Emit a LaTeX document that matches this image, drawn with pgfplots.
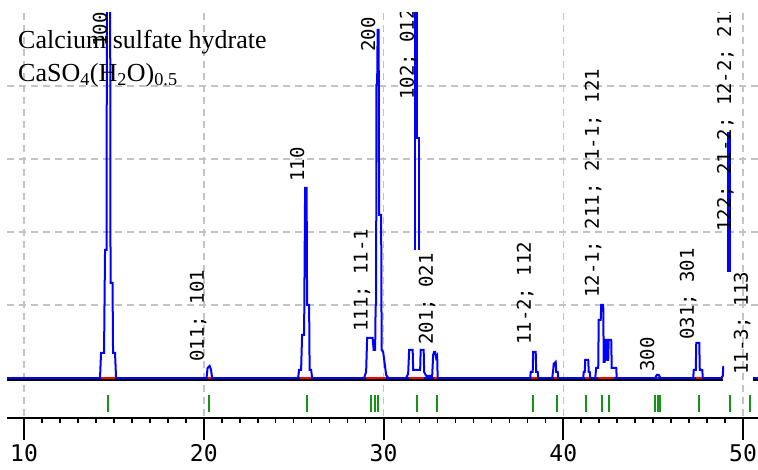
\documentclass[border=0pt]{standalone}
\usepackage{pgfplots}
\pgfplotsset{compat=1.18}
\usepackage{fontspec}
\setmainfont{Liberation Serif}
\newfontfamily\monofont{DejaVu Sans Mono}
\definecolor{pblue}{RGB}{0,0,255}
\definecolor{pgreen}{RGB}{20,150,20}
\definecolor{pred}{RGB}{255,0,0}
\definecolor{pgrid}{RGB}{195,195,195}
\begin{document}
\begin{tikzpicture}
\begin{axis}[
  width=751pt, height=405pt, scale only axis,
  xmin=9.054, xmax=50.83, ymin=-11, ymax=100,
  axis x line*=bottom, axis y line=none,
  xtick={10,20,30,40,50}, minor x tick num=9,
  tick align=outside, major tick length=22pt, minor tick length=5pt,
  x axis line style={line width=2pt, black},
  major tick style={black, line width=2pt},
  minor tick style={black, line width=1.6pt},
  xticklabel style={font=\monofont\fontsize{23}{23}\selectfont, inner sep=0pt, yshift=-4pt},
  /pgf/number format/assume math mode=true,
  unbounded coords=jump,
  clip=true,
]
% grid
\draw[pgrid, line width=1.5pt, dash pattern=on 7pt off 5pt] (axis cs:9.054,20) -- (axis cs:50.83,20);
\draw[pgrid, line width=1.5pt, dash pattern=on 7pt off 5pt] (axis cs:9.054,40) -- (axis cs:50.83,40);
\draw[pgrid, line width=1.5pt, dash pattern=on 7pt off 5pt] (axis cs:9.054,60) -- (axis cs:50.83,60);
\draw[pgrid, line width=1.5pt, dash pattern=on 7pt off 5pt] (axis cs:9.054,80) -- (axis cs:50.83,80);
\draw[pgrid, line width=1.5pt, dash pattern=on 7pt off 5pt] (axis cs:10,100) -- (axis cs:10,-11);
\draw[pgrid, line width=1.5pt, dash pattern=on 7pt off 5pt] (axis cs:20,100) -- (axis cs:20,-11);
\draw[pgrid, line width=1.5pt, dash pattern=on 7pt off 5pt] (axis cs:30,100) -- (axis cs:30,-11);
\draw[pgrid, line width=1.5pt, dash pattern=on 7pt off 5pt] (axis cs:40,100) -- (axis cs:40,-11);
\draw[pgrid, line width=1.5pt, dash pattern=on 7pt off 5pt] (axis cs:50,100) -- (axis cs:50,-11);
% baseline
\addplot[black, line width=2pt] coordinates {(9.054,-0.6) (48.90,-0.6) (49.0,nan) (50.568,-0.6) (50.83,-0.6)};
\addplot[pblue, line width=2pt] coordinates {(9.054,0) (48.90,0) (49.0,nan) (50.568,0) (50.83,0)};
% red background segments
\addplot[pred, line width=2.5pt] coordinates {
 (14.285,-0.1) (15.064,-0.1) (15.1,nan)
 (20.24,-0.1) (20.41,-0.1) (20.5,nan)
 (25.36,-0.1) (25.97,-0.1) (26.0,nan)
 (29.03,-0.1) (30.15,-0.1) (30.2,nan)
 (31.43,-0.1) (32.26,-0.1) (32.3,nan)
 (32.82,-0.1) (32.98,-0.1) (33.0,nan)
 (38.21,-0.1) (38.55,-0.1) (38.6,nan)
 (39.49,-0.1) (39.66,-0.1) (39.7,nan)
 (41.22,-0.1) (41.44,-0.1) (41.5,nan)
 (41.94,-0.1) (42.83,-0.1) (42.9,nan)
 (45.22,-0.1) (45.28,-0.1) (45.3,nan)
 (47.37,-0.1) (47.70,-0.1) (47.8,nan)
 (48.84,-0.1) (48.90,-0.1)};
% peaks
\addplot[pblue, line width=2pt] coordinates {(14.229,0) (14.285,6.85) (14.452,6.85) (14.508,35.1) (14.591,35.1) (14.619,130) (14.786,130) (14.814,26.0) (14.925,26.0) (14.953,6.85) (15.064,6.85) (15.120,0)};
\addplot[pblue, line width=2pt] coordinates {(20.156,0) (20.212,2.74) (20.323,3.29) (20.406,2.19) (20.462,0)};
\addplot[pblue, line width=2pt] coordinates {(25.247,0) (25.303,2.19) (25.414,2.19) (25.470,11.8) (25.581,11.8) (25.637,52.1) (25.720,52.1) (25.748,20.0) (25.860,20.0) (25.887,2.19) (25.971,2.19) (26.027,0)};
\addplot[pblue, line width=2pt] coordinates {(28.921,0) (29.032,1.64) (29.087,10.96) (29.393,10.96) (29.449,7.67) (29.532,7.67) (29.560,20.0) (29.588,20.0) (29.604,80.3) (29.644,80.3) (29.672,95.4) (29.727,95.4) (29.755,44.7) (29.866,44.7) (29.894,7.67) (29.978,7.12) (30.145,0.82) (30.256,0)};
\addplot[pblue, line width=2pt] coordinates {(31.258,0) (31.369,1.10) (31.425,7.67) (31.620,7.67) (31.648,2.19) (32.037,2.19) (32.065,7.67) (32.232,7.67) (32.259,1.64) (32.371,0.55) (32.705,0.55) (32.760,6.30) (32.816,7.12) (32.872,7.12) (32.927,5.48) (32.983,6.03) (33.010,0)};
\addplot[pblue, line width=2pt] coordinates {(31.759,35.07) (31.759,130) (31.870,130) (31.870,65.75) (31.981,65.75) (31.981,35.07)};
\addplot[pblue, line width=2pt] coordinates {(38.158,0) (38.186,1.64) (38.297,1.64) (38.325,7.12) (38.464,7.12) (38.492,1.64) (38.575,1.64) (38.603,0)};
\addplot[pblue, line width=2pt] coordinates {(39.383,0) (39.438,2.19) (39.466,3.84) (39.577,4.38) (39.605,1.64) (39.689,1.64) (39.716,0)};
\addplot[pblue, line width=2pt] coordinates {(41.108,0) (41.136,1.64) (41.191,1.64) (41.219,4.93) (41.386,4.93) (41.414,1.64) (41.469,1.64) (41.497,0)};
\addplot[pblue, line width=2pt] coordinates {(41.775,0) (41.831,2.74) (41.942,2.74) (41.970,15.9) (42.081,15.9) (42.109,20.0) (42.220,20.0) (42.248,4.38) (42.304,4.38) (42.331,10.41) (42.415,10.41) (42.443,4.93) (42.498,4.93) (42.526,10.41) (42.665,10.41) (42.693,2.74) (42.944,2.74) (42.971,0)};
\addplot[pblue, line width=2pt] coordinates {(45.114,0) (45.197,0.82) (45.308,0.82) (45.392,0)};
\addplot[pblue, line width=2pt] coordinates {(47.229,0) (47.257,2.19) (47.368,2.19) (47.396,9.59) (47.563,9.59) (47.591,2.19) (47.730,2.19) (47.758,0)};
\addplot[pblue, line width=2pt] coordinates {(48.787,0) (48.871,0.55) (48.898,3.01) (48.926,3.01)};
\addplot[pblue, line width=2pt] coordinates {(49.176,29.0) (49.176,67.1) (49.288,67.1) (49.288,29.0)};
% reflection markers
\addplot[pgreen, line width=2pt] coordinates {
 (14.67,-4.66) (14.67,-9.32) (14.7,nan)
 (20.29,-4.66) (20.29,-9.32) (20.3,nan)
 (25.75,-4.66) (25.75,-9.32) (25.8,nan)
 (29.31,-4.66) (29.31,-9.32) (29.4,nan)
 (29.53,-4.66) (29.53,-9.32) (29.6,nan)
 (29.70,-4.66) (29.70,-9.32) (29.8,nan)
 (31.87,-4.66) (31.87,-9.32) (31.9,nan)
 (32.98,-4.66) (32.98,-9.32) (33.0,nan)
 (38.33,-4.66) (38.33,-9.32) (38.4,nan)
 (39.66,-4.66) (39.66,-9.32) (39.7,nan)
 (41.27,-4.66) (41.27,-9.32) (41.3,nan)
 (42.16,-4.66) (42.16,-9.32) (42.2,nan)
 (42.55,-4.66) (42.55,-9.32) (42.6,nan)
 (45.11,-4.66) (45.11,-9.32) (45.2,nan)
 (45.25,-4.66) (45.25,-9.32) (45.3,nan)
 (45.39,-4.66) (45.39,-9.32) (45.4,nan)
 (47.56,-4.66) (47.56,-9.32) (47.6,nan)
 (49.29,-4.66) (49.29,-9.32) (49.3,nan)
 (50.40,-4.66) (50.40,-9.32)};
% labels
\tikzset{hkl/.style={rotate=90, anchor=west, inner sep=0pt, font=\monofont\fontsize{19}{19}\selectfont}}
\node[hkl] at (axis cs:14.229,90.7) {100};
\node[hkl] at (axis cs:19.683,4.4) {011; 101};
\node[hkl] at (axis cs:25.192,53.7) {110};
\node[hkl] at (axis cs:28.809,12.6) {111; 11-1};
\node[hkl] at (axis cs:29.143,89.3) {200};
\node[hkl] at (axis cs:31.369,76.2) {102; 012};
\node[hkl] at (axis cs:32.426,9.0) {201; 021};
\node[hkl] at (axis cs:37.880,9.0) {11-2; 112};
\node[hkl] at (axis cs:41.664,21.9) {12-1; 211; 21-1; 121};
\node[hkl] at (axis cs:44.669,1.6) {300};
\node[hkl] at (axis cs:46.950,10.4) {031; 301};
\node[hkl] at (axis cs:49.010,40.0) {122; 21-2; 12-2; 212};
\node[hkl] at (axis cs:49.955,0.8) {11-3; 113};
\node[anchor=north west, align=left, inner sep=0pt, font=\fontsize{26}{33}\selectfont] at (axis cs:9.666,95.3) {Calcium sulfate hydrate\\CaSO\textsubscript{4}(H\textsubscript{2}O)\textsubscript{0.5}};
\coordinate (SW) at (rel axis cs:0,0);
\coordinate (NE) at (rel axis cs:1,1);
\end{axis}
\pgfresetboundingbox
\path ([xshift=-7pt,yshift=-52pt]SW) rectangle ([yshift=13pt]NE);
\end{tikzpicture}
\end{document}
